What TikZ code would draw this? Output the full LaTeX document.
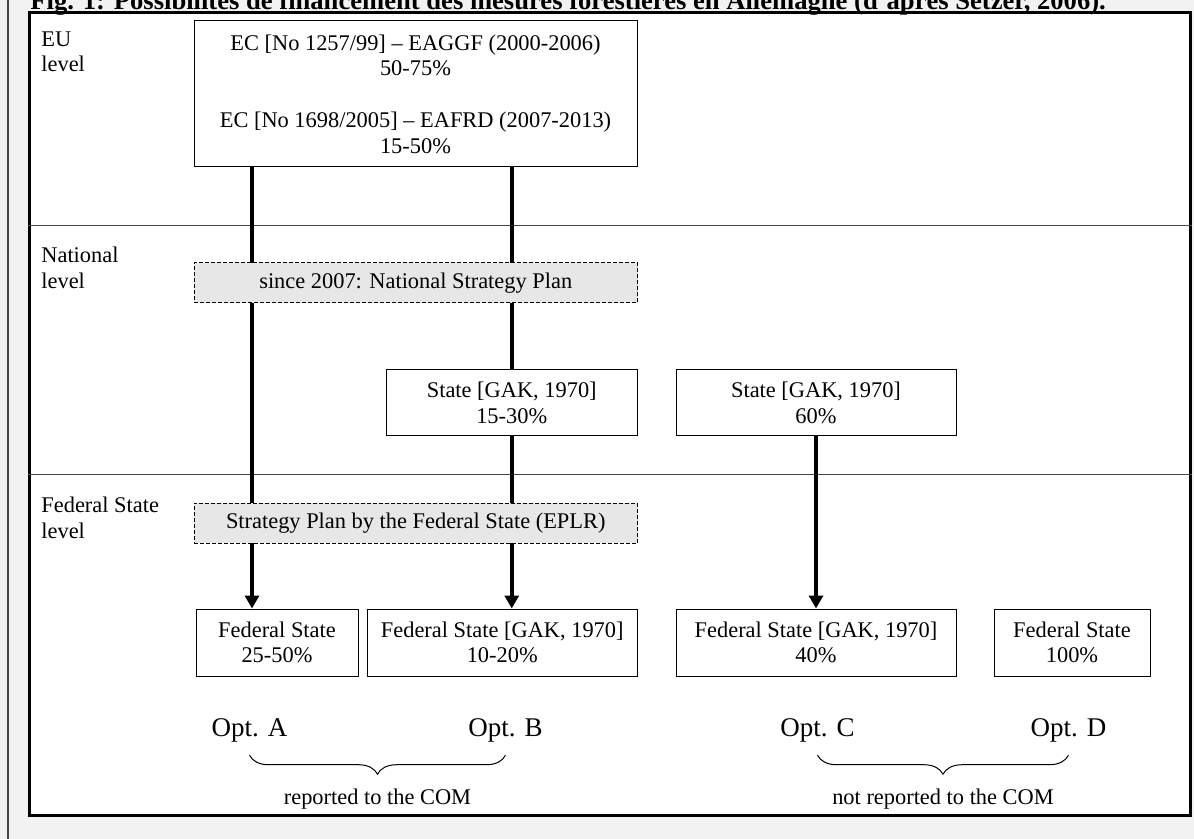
\documentclass[tikz,border=0pt]{standalone}
\usepackage{fontspec}
\setmainfont{Liberation Serif}
\usetikzlibrary{positioning, backgrounds, decorations.pathreplacing, arrows.meta}
\definecolor{pagegray}{RGB}{242,242,242}
\definecolor{plangray}{RGB}{231,231,231}
\definecolor{rulegray}{RGB}{70,70,70}

\begin{document}
\begin{tikzpicture}[
      x=0.5pt, y=-0.5pt,
      font=\fontsize{11.2}{12.8}\selectfont,
      fundbox/.style={rectangle, draw, line width=0.5pt, fill=white,
        align=center, inner sep=0pt},
      planbox/.style={rectangle, draw, dash pattern=on 2pt off 1pt, line width=0.5pt,
        fill=plangray, inner sep=0pt, minimum width=221.75pt, minimum height=20pt},
      arrow/.style={line width=2pt, -{Triangle[length=6.5pt, width=7pt]}},
      flow/.style={line width=2pt},
      levellabel/.style={anchor=north west, align=left, inner sep=0pt},
      optlabel/.style={inner sep=0pt, font=\fontsize{13.5}{15}\selectfont},
      brace/.style={decorate, decoration={brace, mirror, amplitude=9.5pt}, line width=0.5pt}
    ]
      \useasboundingbox (0,0) rectangle (1194,839);

      % Title (cut at the top)
      \node[anchor=base west, inner sep=0pt, font=\bfseries\fontsize{13.3}{15}\selectfont]
        (title) at (30,10) {Fig. 1: Possibilités de financement des mesures forestières en Allemagne (d’après Setzer, 2006).};

      % EU level
      \node[fundbox, minimum width=221.5pt, minimum height=73pt] (eu) at (415.5,94)
        {EC [No 1257/99] – EAGGF (2000-2006)\\50-75\%\\[13.2pt]EC [No 1698/2005] – EAFRD (2007-2013)\\15-50\%};

      % Plans
      \node[planbox] (natplan) at (415.75,283) {since 2007: National Strategy Plan};
      \node[planbox] (fedplan) at (415.75,523) {Strategy Plan by the Federal State (EPLR)};

      % National level
      \node[fundbox, minimum width=125.75pt, minimum height=33pt] (stateB) at (511.75,403) {State [GAK, 1970]\\15-30\%};
      \node[fundbox, minimum width=140pt, minimum height=33pt] (stateC) at (816,403) {State [GAK, 1970]\\60\%};

      % Federal State level
      \node[fundbox, minimum width=81pt, minimum height=33.5pt] (fedA) at (277,642.5) {Federal State\\25-50\%};
      \node[fundbox, minimum width=135.25pt, minimum height=33.5pt] (fedB) at (502.25,642.5) {Federal State [GAK, 1970]\\10-20\%};
      \node[fundbox, minimum width=140pt, minimum height=33.5pt] (fedC) at (816,642.5) {Federal State [GAK, 1970]\\40\%};
      \node[fundbox, minimum width=78pt, minimum height=33.5pt] (fedD) at (1072,642.5) {Federal State\\100\%};

      % Level labels
      \node[levellabel] (eulevel) at (41,31) {EU\\level};
      \node[levellabel] (natlevel) at (41,247) {National\\level};
      \node[levellabel] (fedlevel) at (41,497) {Federal State\\level};

      % Options
      \node[optlabel] (optA) at (249.5,730) {Opt. A};
      \node[optlabel] (optB) at (505.5,730) {Opt. B};
      \node[optlabel] (optC) at (817.5,730) {Opt. C};
      \node[optlabel] (optD) at (1068.5,730) {Opt. D};

      \draw[brace] ([yshift=-6.5pt]optA.south) -- ([yshift=-6.5pt]optB.south)
        node[midway, yshift=-22pt] (reported) {reported to the COM};
      \draw[brace] ([yshift=-6.5pt]optC.south) -- ([yshift=-6.5pt]optD.south)
        node[midway, yshift=-22pt] (notreported) {not reported to the COM};

      \coordinate (colA) at (252,0);
      \coordinate (euline) at (0,226);
      \coordinate (natline) at (0,475);

      \begin{scope}[on background layer]
        % Page and frame
        \fill[pagegray] (0,0) rectangle (1194,839);
        \draw[rulegray, line width=1pt] (8,0) -- (8,839);
        \node[draw, line width=1.5pt, fill=white, inner sep=0pt,
          minimum width=580.5pt, minimum height=401pt] (frame) at (609.5,414) {};
        \draw[rulegray, line width=0.5pt] (frame.west |- euline) -- (frame.east |- euline);
        \draw[rulegray, line width=0.5pt] (frame.west |- natline) -- (frame.east |- natline);

        % Connections
        \draw[arrow] (eu.south -| colA) -- (fedA.north -| colA);
        \draw[flow] (eu.south -| stateB) -- (stateB.north);
        \draw[arrow] (stateB.south) -- (fedB.north -| stateB);
        \draw[arrow] (stateC.south) -- (fedC.north);
      \end{scope}
    \end{tikzpicture}
\end{document}
